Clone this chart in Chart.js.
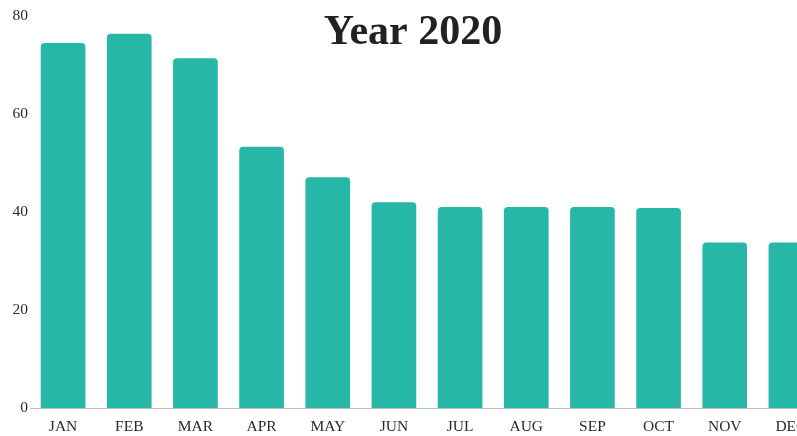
<!DOCTYPE html>
<html>
<head>
<meta charset="utf-8">
<script src="https://cdn.jsdelivr.net/npm/chart.js@4"></script>
<style>
  html, body { margin: 0; padding: 0; background: #fff; overflow: hidden; }
  #wrap { position: relative; width: 830px; height: 436px; }
</style>
</head>
<body>
<div id="wrap"><canvas id="chart"></canvas></div>
<script>
const months = ["JAN", "FEB", "MAR", "APR", "MAY", "JUN", "JUL", "AUG", "SEP", "OCT", "NOV", "DEC"];
const values = [74.5, 76.4, 71.4, 53.3, 47.1, 42, 41, 41, 41, 40.8, 33.8, 33.8];
const yTicks = [0, 20, 40, 60, 80];
const titleText = "Year 2020";

const barColor = "#27b7a7";
const textColor = "#2a2a2a";

const titlePlugin = {
  id: "overlayTitle",
  afterDraw: (chart) => {
    const { ctx } = chart;
    ctx.save();
    ctx.font = "bold 42px 'Liberation Serif', 'Times New Roman', serif";
    ctx.fillStyle = "#222";
    ctx.textAlign = "center";
    ctx.textBaseline = "alphabetic";
    ctx.fillText(titleText, 413, 44);
    ctx.restore();
  },
};

new Chart(document.getElementById("chart"), {
  type: "bar",
  data: {
    labels: months,
    datasets: [
      {
        data: values,
        backgroundColor: barColor,
        borderRadius: 4,
        barPercentage: 0.675,
        categoryPercentage: 1,
      },
    ],
  },
  options: {
    responsive: true,
    maintainAspectRatio: false,
    animation: false,
    layout: { padding: { top: 16, right: 6, left: 0, bottom: 0 } },
    plugins: {
      legend: { display: false },
      tooltip: { enabled: false },
    },
    scales: {
      x: {
        grid: { display: false, drawTicks: false },
        border: { display: true, color: "#bdbdbd", width: 1 },
        ticks: {
          color: textColor,
          font: { family: "'Liberation Serif', 'Times New Roman', serif", size: 15.5 },
          padding: 10,
          maxRotation: 0,
          autoSkip: false,
        },
        afterFit: (scale) => { scale.height = 28; },
      },
      y: {
        min: 0,
        max: 80,
        grid: { display: false, drawTicks: false },
        border: { display: false },
        afterBuildTicks: (scale) => {
          scale.ticks = yTicks.map((v) => ({ value: v }));
        },
        ticks: {
          color: textColor,
          font: { family: "'Liberation Serif', 'Times New Roman', serif", size: 15.5 },
          padding: 2,
        },
        afterFit: (scale) => { scale.width = 30; },
      },
    },
  },
  plugins: [titlePlugin],
});
</script>
</body>
</html>
